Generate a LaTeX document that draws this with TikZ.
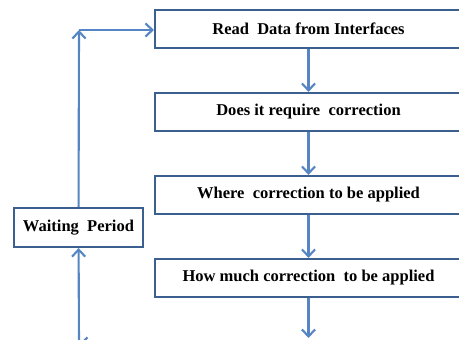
\documentclass[tikz,border=0pt]{standalone}
\usepackage{fontspec}
\setmainfont{Liberation Serif}
\usetikzlibrary{arrows.meta}
\definecolor{boxblue}{HTML}{3B5F8E}
\definecolor{arrblue}{HTML}{5585C2}

\begin{document}
\begin{tikzpicture}[x=0.02cm, y=-0.02cm, >={Straight Barb[length=4pt,width=7.5pt]},
	box/.style={draw=boxblue, line width=1.2pt, fill=white, minimum width=6.14cm, minimum height=0.76cm, inner sep=0pt, font=\fontsize{9.4}{11}\selectfont\bfseries},
	wbox/.style={box, minimum width=2.58cm, minimum height=0.78cm},
	arr/.style={->, line width=1.2pt, arrblue}]
	\clip (0,0) rectangle (459,340);
	%%% Blocchi
	\node[box] (read) at (308.5,29) {Read\enspace Data from Interfaces};
	\node[box] (corr) at (308.5,112) {Does it require\enspace correction};
	\node[box] (where) at (308.5,195) {Where\enspace correction to be applied};
	\node[box] (much) at (308.5,278) {How much correction\enspace to be applied};
	\node[wbox] (wait) at (78.5,227.5) {Waiting\enspace Period};
	%%% Punti
	\coordinate (top) at (79,30);
	\coordinate (bot) at (79,344);
	\coordinate (back) at (200,344);
	\coordinate (next) at (308.5,338);
	%%% Frecce
	\draw[arr] (read) -- (corr);
	\draw[arr] (corr) -- (where);
	\draw[arr] (where) -- (much);
	\draw[arr] (much) -- (next);
	\draw[arr] (wait) -- (top);
	\draw[arr] (top) -- (read.west |- top);
	\draw[arr] (bot) -- (wait);
	\draw[arr] (back) -- (bot);
\end{tikzpicture}
\end{document}
